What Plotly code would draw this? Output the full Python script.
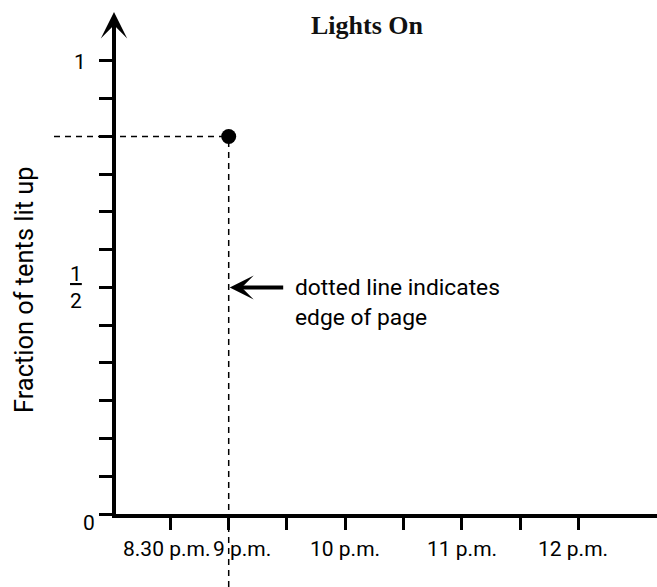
import plotly.graph_objects as go

# ---------------- data ----------------
POINT_TIME = [9.0]            # hours (9 p.m.)
POINT_FRACTION = [5 / 6]      # fraction of tents lit up

X_TICK_VALUES = [8.5, 9.0, 9.5, 10.0, 10.5, 11.0, 11.5, 12.0]
X_LABEL_VALUES = [8.5, 9.0, 10.0, 11.0, 12.0]
X_LABELS = ["8.30 p.m.", "9 p.m.", "10 p.m.", "11 p.m.", "12 p.m."]

Y_TICK_VALUES = [0, 1/12, 2/12, 3/12, 4/12, 5/12, 6/12, 7/12, 8/12, 9/12, 10/12, 11/12, 1]
Y_LABEL_VALUES = [0, 0.5, 1]
Y_LABELS = ["0", "<u>1</u><br>2", "1"]

TITLE = "Lights On"
Y_TITLE = "Fraction of tents lit up"
NOTE = "dotted line indicates<br>edge of page"

# ---------------- style / layout ----------------
W, H = 657, 587
ML, MR, MT, MB = 116, 0, 28, 73
X_RANGE = [8.033, 12.675]
Y_RANGE = [0, 1.0728]
SANS = "Roboto"
SERIF = "Liberation Serif"

# per-label pixel nudges (label placement in the original artwork)
X_LABEL_SHIFT = [-4, 13, 0, 0, -5]
Y_LABEL_XSHIFT = [-27.5, -40.5, -36.5]
Y_LABEL_YSHIFT = [-9, 0, -1]

plot_h = H - MT - MB
plot_w = W - ML - MR

fig = go.Figure()
fig.add_trace(go.Scatter(
    x=POINT_TIME, y=POINT_FRACTION, mode="markers",
    marker=dict(size=15, color="black"), cliponaxis=False,
    hoverinfo="skip", showlegend=False))

# dashed guide lines from the point
px_frac = (POINT_TIME[0] - X_RANGE[0]) / (X_RANGE[1] - X_RANGE[0])
py_frac = (POINT_FRACTION[0] - Y_RANGE[0]) / (Y_RANGE[1] - Y_RANGE[0])
dash_line = dict(color="black", width=1.5, dash="6px,5px")
fig.add_shape(type="line", xref="paper", yref="y",
              x0=(54 - ML) / plot_w, x1=px_frac,
              y0=POINT_FRACTION[0], y1=POINT_FRACTION[0],
              line=dash_line, layer="below")
fig.add_shape(type="line", xref="x", yref="paper",
              x0=POINT_TIME[0], x1=POINT_TIME[0],
              y0=-(MB) / plot_h, y1=py_frac,
              line=dash_line, layer="below")

annotations = []
# x tick labels
for v, t, s in zip(X_LABEL_VALUES, X_LABELS, X_LABEL_SHIFT):
    annotations.append(dict(x=v, y=0, xref="x", yref="y", text=t, showarrow=False,
                            xanchor="center", yanchor="middle", xshift=s, yshift=-35,
                            font=dict(family=SANS, size=21, color="black")))
# y tick labels
for v, t, sx, sy in zip(Y_LABEL_VALUES, Y_LABELS, Y_LABEL_XSHIFT, Y_LABEL_YSHIFT):
    annotations.append(dict(x=0, y=v, xref="paper", yref="y", text=t, showarrow=False,
                            xanchor="center", yanchor="middle", xshift=sx, yshift=sy,
                            font=dict(family=SANS, size=21, color="black")))
# y axis title
annotations.append(dict(x=(24 - ML) / plot_w, y=(H - MB - 290) / plot_h, xref="paper", yref="paper",
                        text=Y_TITLE, textangle=-90, showarrow=False,
                        xanchor="center", yanchor="middle",
                        font=dict(family=SANS, size=25.4, color="black")))
# chart title
annotations.append(dict(x=(367 - ML) / plot_w, y=(H - MB - 26) / plot_h, xref="paper", yref="paper",
                        text="<b>" + TITLE + "</b>", showarrow=False,
                        xanchor="center", yanchor="middle",
                        font=dict(family=SERIF, size=26, color="#111111")))
# y axis arrowhead
annotations.append(dict(x=0, y=(H - MB - 12) / plot_h, xref="paper", yref="paper",
                        xshift=-2, ax=0, ay=26, axref="pixel", ayref="pixel",
                        text="", showarrow=True, arrowhead=3, arrowwidth=4,
                        arrowsize=1.1, arrowcolor="black"))
# pointer arrow to the dashed line
annotations.append(dict(x=POINT_TIME[0], y=0.5, xref="x", yref="y",
                        ax=56, ay=0, axref="pixel", ayref="pixel",
                        text="", showarrow=True, arrowhead=3, arrowwidth=4,
                        arrowsize=1.0, arrowcolor="black", standoff=1))
# note text
annotations.append(dict(x=(293 - ML) / plot_w, y=(H - MB - 302) / plot_h, xref="paper", yref="paper",
                        text=NOTE, showarrow=False, align="left",
                        xanchor="left", yanchor="middle",
                        font=dict(family=SANS, size=22.8, color="black")))

fig.update_layout(
    width=W, height=H,
    margin=dict(l=ML, r=MR, t=MT, b=MB, pad=0),
    paper_bgcolor="white", plot_bgcolor="rgba(0,0,0,0)",
    showlegend=False,
    annotations=annotations,
)
fig.update_xaxes(range=X_RANGE, showline=True, linewidth=4, linecolor="black",
                 ticks="outside", ticklen=12, tickwidth=2.5, tickcolor="black",
                 tickvals=X_TICK_VALUES, showticklabels=False,
                 showgrid=False, zeroline=False, fixedrange=True)
fig.update_yaxes(range=Y_RANGE, showline=True, linewidth=4, linecolor="black",
                 ticks="outside", ticklen=13, tickwidth=2.5, tickcolor="black",
                 tickvals=Y_TICK_VALUES, showticklabels=False,
                 showgrid=False, zeroline=False, fixedrange=True)

fig.write_html("out.html", config={"displayModeBar": False},
               post_script="document.body.style.margin='0';document.body.style.padding='0';"
                           "document.body.style.overflow='hidden';")
